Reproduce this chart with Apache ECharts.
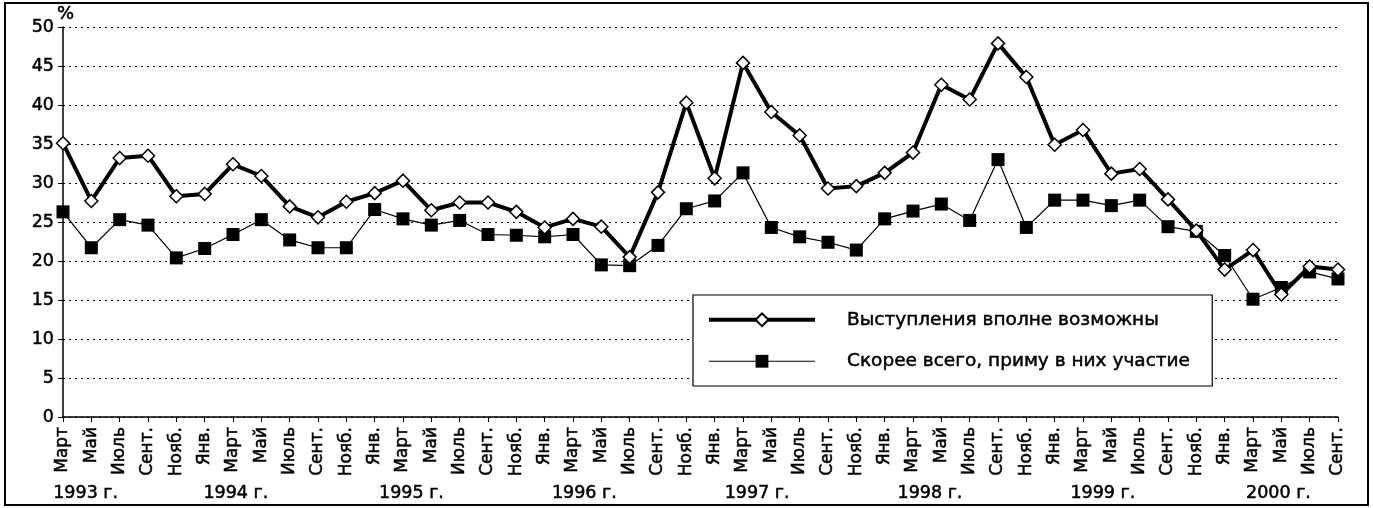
<!DOCTYPE html>
<html>
<head>
<meta charset="utf-8">
<script src="https://cdn.jsdelivr.net/npm/echarts@6/dist/echarts.min.js"></script>
<style>
  html, body { margin: 0; padding: 0; background: #fff; }
  #chart { width: 1373px; height: 508px; }
</style>
</head>
<body>
<div id="chart"></div>
<script>
// месяцы опросов, март 1993 — сентябрь 2000
var months = [
  'Март', 'Май', 'Июль', 'Сент.', 'Нояб.',
  'Янв.', 'Март', 'Май', 'Июль', 'Сент.', 'Нояб.',
  'Янв.', 'Март', 'Май', 'Июль', 'Сент.', 'Нояб.',
  'Янв.', 'Март', 'Май', 'Июль', 'Сент.', 'Нояб.',
  'Янв.', 'Март', 'Май', 'Июль', 'Сент.', 'Нояб.',
  'Янв.', 'Март', 'Май', 'Июль', 'Сент.', 'Нояб.',
  'Янв.', 'Март', 'Май', 'Июль', 'Сент.', 'Нояб.',
  'Янв.', 'Март', 'Май', 'Июль', 'Сент.'
];
var years = ['1993 г.', '1994 г.', '1995 г.', '1996 г.', '1997 г.', '1998 г.', '1999 г.', '2000 г.'];
// where each year caption sits, in category units
var yearPos = [0.8, 6.1, 12.3, 18.4, 24.5, 30.6, 36.7, 42.9];

var possible = [
  35.1, 27.7, 33.2, 33.5, 28.3,
  28.6, 32.4, 30.9, 27.0, 25.6, 27.6,
  28.7, 30.3, 26.5, 27.5, 27.5, 26.3,
  24.3, 25.4, 24.4, 20.5, 28.8, 40.3,
  30.6, 45.4, 39.1, 36.1, 29.3, 29.6,
  31.3, 33.9, 42.6, 40.7, 47.9, 43.6,
  34.9, 36.8, 31.2, 31.8, 27.9, 23.9,
  18.9, 21.4, 15.7, 19.3, 18.9
];
var takePart = [
  26.3, 21.7, 25.3, 24.6, 20.4,
  21.6, 23.4, 25.3, 22.7, 21.7, 21.7,
  26.6, 25.4, 24.6, 25.2, 23.4, 23.3,
  23.1, 23.4, 19.5, 19.4, 22.0, 26.7,
  27.7, 31.3, 24.3, 23.1, 22.4, 21.4,
  25.4, 26.4, 27.3, 25.2, 33.0, 24.3,
  27.8, 27.8, 27.1, 27.8, 24.4, 23.8,
  20.7, 15.1, 16.6, 18.6, 17.7
];
var yTicks = { min: 0, max: 50, interval: 5 };

var font = 'DejaVu Sans';
// тонкая обводка делает шрифт чуть жирнее, как в оригинале
var thick = { textBorderColor: '#000', textBorderWidth: 0.5 };
var chartDom = document.getElementById('chart');
var myChart = echarts.init(chartDom);
var option = {
  backgroundColor: '#fff',
  animation: false,
  textStyle: { fontFamily: font, color: '#000' },
  grid: { left: 63, right: 35, top: 27, bottom: 91 },
  legend: {
    orient: 'vertical',
    left: 693,
    top: 295,
    padding: [15, 22, 15, 14],
    itemGap: 22,
    itemWidth: 106,
    itemHeight: 16,
    borderColor: '#000',
    borderWidth: 1.2,
    backgroundColor: '#fff',
    textStyle: Object.assign({ fontSize: 18.5, color: '#000', padding: [0, 0, 0, 27], fontFamily: font }, thick),
    data: [
      { name: 'Выступления вполне возможны', lineStyle: { width: 4, color: '#000' } },
      { name: 'Скорее всего, приму в них участие', lineStyle: { width: 1.2, color: '#000' } }
    ]
  },
  xAxis: {
    type: 'category',
    boundaryGap: false,
    data: months,
    axisLine: { lineStyle: { color: '#000', width: 1.5 } },
    axisTick: { show: true, length: 5, interval: 0, lineStyle: { color: '#000' } },
    axisLabel: Object.assign({ rotate: 90, interval: 0, fontSize: 17, color: '#000', margin: 10, fontFamily: font }, thick)
  },
  yAxis: {
    type: 'value',
    min: yTicks.min,
    max: yTicks.max,
    interval: yTicks.interval,
    axisLine: { show: true, lineStyle: { color: '#000', width: 1.5 } },
    axisTick: { show: true, length: 5, lineStyle: { color: '#000' } },
    axisLabel: Object.assign({ fontSize: 17.5, color: '#000', margin: 9, fontFamily: font }, thick),
    splitLine: { lineStyle: { color: '#000', type: [2, 4], width: 1.2 } }
  },
  series: [
    {
      name: 'Выступления вполне возможны',
      type: 'line',
      data: possible,
      z: 3,
      symbol: 'diamond',
      symbolSize: 13,
      lineStyle: { color: '#000', width: 4 },
      itemStyle: { color: '#fff', borderColor: '#000', borderWidth: 1.5 }
    },
    {
      name: 'Скорее всего, приму в них участие',
      type: 'line',
      data: takePart,
      z: 2,
      symbol: 'rect',
      symbolSize: 13,
      lineStyle: { color: '#000', width: 1.2 },
      itemStyle: { color: '#000', borderColor: '#000', borderWidth: 0 }
    }
  ]
};
myChart.setOption(option);

// подписи лет, знак % и внешняя рамка
var x0 = myChart.convertToPixel({ xAxisIndex: 0 }, 0);
var x1 = myChart.convertToPixel({ xAxisIndex: 0 }, 1);
var yTop = myChart.convertToPixel({ yAxisIndex: 0 }, yTicks.max);
var step = x1 - x0;
var textLook = { fontFamily: font, fill: '#000', stroke: '#000', lineWidth: 0.5 };
var graphics = [{
  type: 'rect',
  shape: { x: 5, y: 3, width: 1363, height: 502 },
  style: { fill: null, stroke: '#000', lineWidth: 2 },
  silent: true
}, {
  type: 'text',
  x: x0 - 6,
  y: yTop - 4,
  style: Object.assign({ text: '%', fontSize: 18, align: 'left', verticalAlign: 'bottom' }, textLook)
}];
years.forEach(function (y, i) {
  graphics.push({
    type: 'text',
    x: x0 + yearPos[i] * step,
    y: 493,
    style: Object.assign({ text: y, fontSize: 17.5, align: 'center', verticalAlign: 'middle' }, textLook)
  });
});
myChart.setOption({ graphic: graphics });
</script>
</body>
</html>
